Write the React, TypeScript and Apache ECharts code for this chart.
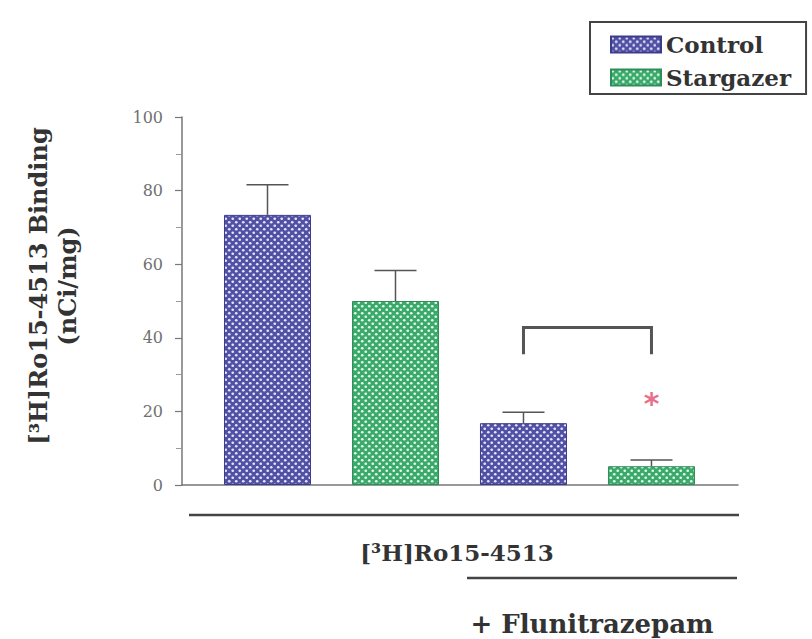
import React, { useEffect, useRef } from 'react';
import * as echarts from 'echarts';

// ---- data ----
const seriesNames = ['Control', 'Stargazer'];
const conditionLabels = ['[³H]Ro15-4513', '+ Flunitrazepam'];
const controlMean = [73.4, 16.8];
const controlSem = [8.2, 3.0];
const stargazerMean = [50.0, 5.1];
const stargazerSem = [8.3, 1.7];
const bracketLevels = [42.8, 35.5]; // top, leg end (between Control & Stargazer, + Flunitrazepam)
const starLevel = [23.3];
const yTickValues = [0, 20, 40, 60, 80, 100];

const FONT = '"DejaVu Serif", "Liberation Serif", serif';

function makePattern(base: string, dot: string) {
  const c = document.createElement('canvas');
  c.width = 7;
  c.height = 7;
  const ctx = c.getContext('2d')!;
  ctx.fillStyle = base;
  ctx.fillRect(0, 0, 7, 7);
  ctx.fillStyle = dot;
  const pts = [
    [1.75, 1.75],
    [5.25, 5.25],
  ];
  for (const [x, y] of pts) {
    ctx.beginPath();
    ctx.arc(x, y, 1.35, 0, Math.PI * 2);
    ctx.fill();
  }
  return { image: c, repeat: 'repeat' };
}

export default function App() {
  const ref = useRef<HTMLDivElement>(null);

  useEffect(() => {
    if (!ref.current) return;
    const chart = echarts.init(ref.current, undefined, { renderer: 'svg' });

    const controlData = controlMean.map((v, i) => [2 * i, v]);
    const stargazerData = stargazerMean.map((v, i) => [2 * i + 1, v]);
    const errData = [
      ...controlMean.map((v, i) => [2 * i, v, controlSem[i]]),
      ...stargazerMean.map((v, i) => [2 * i + 1, v, stargazerSem[i]]),
    ];

    const errStyle = { stroke: '#555', lineWidth: 1.5 };

    chart.setOption({
      animation: false,
      backgroundColor: '#ffffff',
      grid: { left: 182, right: 74, top: 117, bottom: 154 },
      legend: {
        data: seriesNames,
        orient: 'vertical',
        left: 590,
        top: 22,
        icon: 'rect',
        padding: [11, 15, 5, 20],
        itemGap: 10,
        itemWidth: 50,
        itemHeight: 16,
        borderColor: '#444',
        borderWidth: 2,
        textStyle: { fontFamily: FONT, fontWeight: 'bold', fontSize: 23, color: '#333' },
      },
      xAxis: {
        type: 'value',
        min: -0.668,
        max: 3.676,
        axisLine: { show: true, onZero: false, lineStyle: { color: '#777', width: 1.5 } },
        axisTick: { show: false },
        axisLabel: { show: false },
        splitLine: { show: false },
      },
      yAxis: {
        type: 'value',
        min: yTickValues[0],
        max: yTickValues[yTickValues.length - 1],
        interval: 20,
        name: '[³H]Ro15-4513 Binding\n(nCi/mg)',
        nameLocation: 'middle',
        nameRotate: 90,
        nameGap: 100,
        nameTextStyle: {
          fontFamily: FONT,
          fontWeight: 'bold',
          fontSize: 24,
          lineHeight: 29,
          color: '#333',
          padding: [0, 0, 0, 30],
        },
        axisLine: { show: true, onZero: false, lineStyle: { color: '#777', width: 1.5 } },
        axisTick: { show: true, inside: false, length: 7, lineStyle: { color: '#777', width: 1.2 } },
        minorTick: { show: true, splitNumber: 2, length: 6, lineStyle: { color: '#999', width: 1 } },
        axisLabel: { margin: 19, fontFamily: FONT, fontSize: 16, color: '#707070' },
        splitLine: { show: false },
      },
      series: [
        {
          name: seriesNames[0],
          type: 'bar',
          data: controlData,
          barWidth: 87,
          barGap: '-100%',
          itemStyle: {
            color: makePattern('#5050a4', 'rgba(236,236,255,0.95)'),
            borderColor: '#3c3c8c',
            borderWidth: 1,
          },
        },
        {
          name: seriesNames[1],
          type: 'bar',
          data: stargazerData,
          barWidth: 87,
          barGap: '-100%',
          itemStyle: {
            color: makePattern('#3aa96a', 'rgba(236,255,242,0.95)'),
            borderColor: '#2e8e58',
            borderWidth: 1,
          },
        },
        {
          type: 'custom',
          name: 'err',
          data: errData,
          z: 5,
          renderItem: (params: any, api: any) => {
            const x = api.value(0);
            const m = api.value(1);
            const e = api.value(2);
            const p0 = api.coord([x, m]);
            const p1 = api.coord([x, m + e]);
            const hw = 21;
            return {
              type: 'group',
              children: [
                { type: 'line', shape: { x1: p0[0], y1: p0[1], x2: p1[0], y2: p1[1] }, style: errStyle },
                { type: 'line', shape: { x1: p1[0] - hw, y1: p1[1], x2: p1[0] + hw, y2: p1[1] }, style: errStyle },
              ],
            };
          },
        },
        {
          type: 'custom',
          name: 'bracket',
          data: [[2, 3, bracketLevels[0], bracketLevels[1]]],
          z: 5,
          renderItem: (params: any, api: any) => {
            const a = api.value(0);
            const b = api.value(1);
            const top = api.value(2);
            const bot = api.value(3);
            const pts = [
              api.coord([a, bot]),
              api.coord([a, top]),
              api.coord([b, top]),
              api.coord([b, bot]),
            ];
            return {
              type: 'polyline',
              shape: { points: pts },
              style: { stroke: '#555', lineWidth: 3, fill: null },
            };
          },
        },
        {
          type: 'custom',
          name: 'star',
          data: [[3, starLevel[0]]],
          z: 6,
          renderItem: (params: any, api: any) => {
            const p = api.coord([api.value(0), api.value(1)]);
            return {
              type: 'text',
              x: p[0],
              y: p[1] + 4,
              style: {
                text: '*',
                fill: '#e8708c',
                font: 'bold 30px "DejaVu Sans"',
                align: 'center',
                verticalAlign: 'middle',
              },
            };
          },
        },
      ],
      graphic: [
        {
          type: 'line',
          shape: { x1: 189, y1: 515, x2: 739, y2: 515 },
          style: { stroke: '#444', lineWidth: 2.5 },
        },
        {
          type: 'text',
          x: 457,
          y: 552,
          style: {
            text: conditionLabels[0],
            font: `bold 23px ${FONT}`,
            fill: '#333',
            align: 'center',
            verticalAlign: 'middle',
          },
        },
        {
          type: 'line',
          shape: { x1: 467, y1: 578, x2: 737, y2: 578 },
          style: { stroke: '#444', lineWidth: 2.5 },
        },
        {
          type: 'text',
          x: 592,
          y: 624,
          style: {
            text: conditionLabels[1],
            font: `bold 26px ${FONT}`,
            fill: '#333',
            align: 'center',
            verticalAlign: 'middle',
          },
        },
      ],
    });

    return () => chart.dispose();
  }, []);

  return (
    <div
      ref={ref}
      style={{ position: 'fixed', left: 0, top: 0, width: 812, height: 639, background: '#fff' }}
    />
  );
}
